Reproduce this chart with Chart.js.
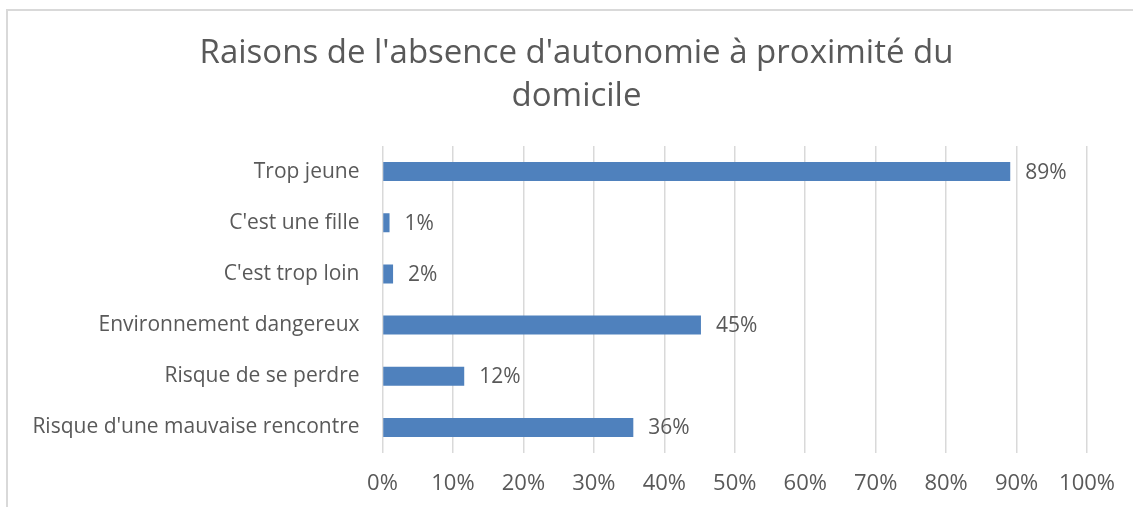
<!DOCTYPE html>
<html>
<head>
<meta charset="utf-8">
<script src="https://cdn.jsdelivr.net/npm/chart.js@4"></script>
<style>
  html, body { margin: 0; padding: 0; background: #ffffff; }
  #wrap { position: relative; width: 1133px; height: 507px; }
</style>
</head>
<body>
<div id="wrap"><canvas id="c" width="1133" height="507"></canvas></div>
<script>
const titleLines = ["Raisons de l'absence d'autonomie à proximité du", "domicile"];
const categories = [
  "Trop jeune",
  "C'est une fille",
  "C'est trop loin",
  "Environnement dangereux",
  "Risque de se perdre",
  "Risque d'une mauvaise rencontre"
];
const values = [89.1, 1.0, 1.5, 45.2, 11.6, 35.6];
const xTicks = [0, 10, 20, 30, 40, 50, 60, 70, 80, 90, 100];

const FONT = "'Open Sans', 'DejaVu Sans', sans-serif";
const TEXT = '#595959';

const frame = {
  id: 'frame',
  beforeDraw(chart) {
    const ctx = chart.ctx;
    ctx.save();
    ctx.fillStyle = '#ffffff';
    ctx.fillRect(0, 0, chart.width, chart.height);
    ctx.strokeStyle = '#d9d9d9';
    ctx.lineWidth = 2;
    ctx.beginPath();
    ctx.moveTo(chart.width, 10);
    ctx.lineTo(7, 10);
    ctx.lineTo(7, chart.height);
    ctx.stroke();
    ctx.restore();
  }
};

const valueLabels = {
  id: 'valueLabels',
  afterDatasetsDraw(chart) {
    const ctx = chart.ctx;
    const meta = chart.getDatasetMeta(0);
    ctx.save();
    ctx.font = '21px ' + FONT;
    ctx.fillStyle = TEXT;
    ctx.textAlign = 'left';
    ctx.textBaseline = 'middle';
    meta.data.forEach((bar, i) => {
      ctx.fillText(Math.round(values[i]) + '%', bar.x + 15, bar.y + 1);
    });
    ctx.restore();
  }
};

new Chart(document.getElementById('c'), {
  type: 'bar',
  data: {
    labels: categories,
    datasets: [{
      data: values,
      backgroundColor: '#4f81bd',
      borderWidth: 0,
      categoryPercentage: 1.0,
      barPercentage: 0.37
    }]
  },
  plugins: [frame, valueLabels],
  options: {
    indexAxis: 'y',
    responsive: false,
    animation: false,
    events: [],
    layout: { padding: { left: 20, right: 0, top: 0, bottom: 0 } },
    plugins: {
      legend: { display: false },
      tooltip: { enabled: false },
      title: {
        display: true,
        text: titleLines,
        color: TEXT,
        font: { family: FONT, size: 33, weight: 'normal', lineHeight: 43 / 33 },
        padding: { top: 32, bottom: 28 }
      }
    },
    scales: {
      x: {
        min: 0,
        max: 100,
        afterBuildTicks(scale) { scale.ticks = xTicks.map(v => ({ value: v })); },
        afterFit(scale) { scale.height = 54; },
        grid: { color: '#d9d9d9', lineWidth: 1.5, drawTicks: false },
        border: { display: false },
        ticks: {
          color: TEXT,
          font: { family: FONT, size: 22 },
          padding: 18,
          callback: v => v + '%'
        }
      },
      y: {
        afterFit(scale) { scale.width = 382.5 - 20; },
        grid: { display: false, drawTicks: false },
        border: { display: false },
        ticks: {
          color: TEXT,
          font: { family: FONT, size: 21 },
          padding: 23
        }
      },
      yRight: {
        position: 'right',
        type: 'category',
        afterFit(scale) { scale.width = 41; },
        grid: { display: false, drawTicks: false },
        border: { display: false },
        ticks: { display: false }
      }
    }
  }
});
</script>
</body>
</html>
